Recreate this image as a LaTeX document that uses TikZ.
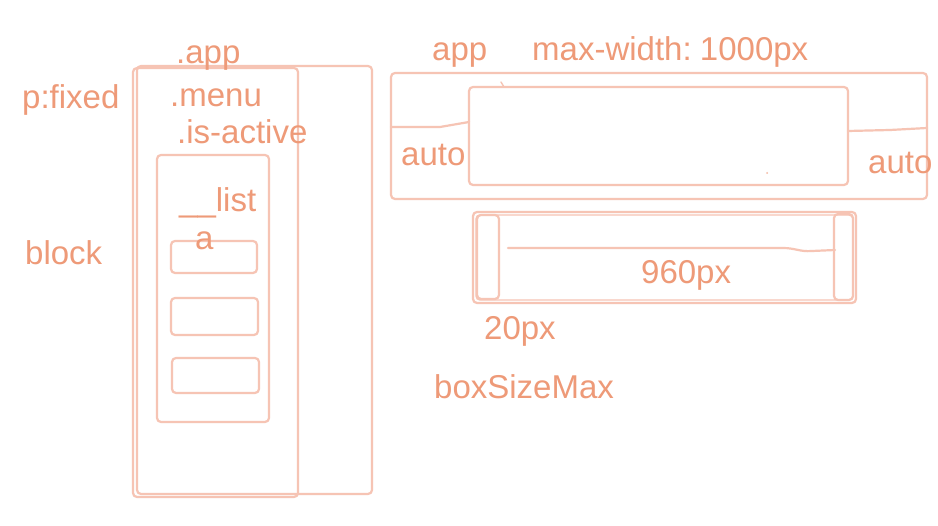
\documentclass[tikz,border=0pt]{standalone}
\usepackage{fontspec}
\setmainfont{Liberation Sans}
\definecolor{txt}{HTML}{EE9A78}
\definecolor{ln}{HTML}{F6C4B4}
\begin{document}
\begin{tikzpicture}[x=1pt,y=-1pt,
  lbl/.style={anchor=base west, inner sep=0pt, text=txt, font=\fontsize{33}{37}\selectfont},
  sk/.style={draw=ln, line width=2.2pt, rounded corners=4pt},
  skl/.style={draw=ln, line width=2.2pt, line cap=round, line join=round}]
\useasboundingbox[fill=white] (0,0) rectangle (938,526);

% left group
\draw[sk] (137,66) rectangle (372,494);
\draw[sk] (133,68) rectangle (298,497);
\draw[sk] (157,155) rectangle (269,422);
\draw[sk] (171,241) rectangle (257,273);
\draw[sk] (171,298) rectangle (258,335);
\draw[sk] (172,358) rectangle (259,393);

\node[lbl] (tapp) at (176,64) {.app};
\node[lbl] (tmenu) at (170,107) {.menu};
\node[lbl] (tactive) at (177,144) {.is-active};
\node[lbl] (tlist) at (179,212) {\_\_list};
\node[lbl] (ta) at (195,250) {a};
\node[lbl] (tfixed) at (22,109) {p:fixed};
\node[lbl] (tblock) at (25,265) {block};

% right top group
\draw[sk] (391,73) rectangle (927,199);
\draw[sk] (469,87) rectangle (848,185);
\coordinate (la) at (391,127);
\coordinate (lb) at (440,127);
\coordinate (lc) at (469,122);
\draw[skl] (la) -- (lb) -- (lc);
\coordinate (ra) at (848,131);
\coordinate (rb) at (890,130);
\coordinate (rc) at (927,128);
\draw[skl] (ra) -- (rb) -- (rc);
\draw[draw=ln, line width=1.4pt, line cap=round] (501,82) -- (504,87);
\fill[txt!70] (767,173) circle (1pt);

\node[lbl] (tapp2) at (432,61) {app};
\node[lbl] (tmax) at (532,61) {max-width:\hspace{-0.12em} 1000px};
\node[lbl] (tauto1) at (401,166) {auto};
\node[lbl] (tauto2) at (868,174) {auto};

% lower group
\draw[sk] (473,212) rectangle (856,303);
\draw[sk, line width=1.4pt] (476,215) rectangle (853,300);
\draw[sk] (477,215) rectangle (499,299);
\draw[sk] (834,214) rectangle (853,300);
\coordinate (wa) at (508,248);
\coordinate (wb) at (783,248);
\coordinate (wc) at (812,251);
\coordinate (wd) at (835,250);
\draw[skl] (wa) -- (wb) .. controls (795,248) and (800,252) .. (wc) -- (wd);

\node[lbl] (t960) at (641,284) {960px};
\node[lbl] (t20) at (484,340) {20px};
\node[lbl] (tbox) at (434,399) {boxSizeMax};
\end{tikzpicture}
\end{document}
